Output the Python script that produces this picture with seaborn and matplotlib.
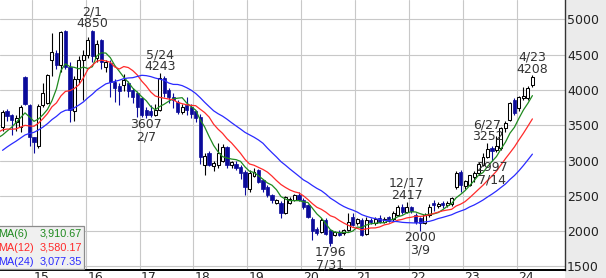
import numpy as np
import pandas as pd
import matplotlib
matplotlib.use("Agg")
import matplotlib.pyplot as plt
from matplotlib.patches import Rectangle
import matplotlib.transforms as mtransforms
import seaborn as sns

# ---------------- data (monthly candles, Jun 2014 .. Apr 2024) ----------------
first_year, first_month = 2014, 6
opens = [3480, 3700, 3640, 3540, 3480, 4180, 3790, 3330, 3200, 3790, 3820, 4424, 4520, 4353, 4840, 4330,
         3700, 4150, 4420, 4500, 4840, 4450, 4700, 4330, 4380, 4110, 4050, 4070, 4100, 4000, 3960, 3880,
         3720, 3700, 3645, 3716, 4170, 4000, 3900, 3830, 3690, 3786, 3760, 3700, 3620, 2930, 3105, 2920,
         2940, 3000, 3190, 2940, 2950, 2910, 2840, 2600, 2780, 2870, 2730, 2630, 2510, 2400, 2400, 2260,
         2400, 2440, 2510, 2440, 2370, 2170, 2030, 1990, 2160, 2015, 1950, 1990, 1970, 2015, 2200, 2110,
         2160, 1960, 2160, 2120, 2190, 2130, 2200, 2170, 2230, 2345, 2270, 2340, 2230, 2180, 2120, 2230,
         2400, 2360, 2400, 2370, 2380, 2630, 2840, 2640, 2660, 2770, 2820, 2940, 3050, 3180, 3150, 3180,
         3460, 3575, 3860, 3740, 3890, 3890, 4070]
highs = [3720, 3730, 3660, 3640, 3790, 4190, 3800, 3340, 3800, 4100, 4230, 4800, 4560, 4830, 4848, 4400,
         4200, 4480, 4560, 4750, 4850, 4700, 4720, 4420, 4420, 4160, 4100, 4230, 4130, 4020, 3980, 3900,
         3760, 3790, 3800, 4243, 4200, 4020, 3960, 3850, 3800, 3900, 3800, 3720, 3660, 3100, 3130, 3000,
         3245, 3230, 3200, 3000, 2990, 2930, 2860, 2870, 2895, 2880, 2740, 2650, 2530, 2460, 2420, 2500,
         2480, 2530, 2555, 2470, 2380, 2200, 2060, 2180, 2180, 2030, 2000, 2010, 2030, 2250, 2260, 2180,
         2180, 2200, 2190, 2200, 2230, 2200, 2220, 2280, 2370, 2380, 2417, 2360, 2260, 2200, 2250, 2380,
         2440, 2410, 2420, 2420, 2480, 2850, 2870, 2720, 2800, 2850, 2980, 3100, 3252, 3200, 3350, 3480,
         3560, 3830, 3880, 3920, 4040, 4050, 4208]
lows = [3420, 3560, 3360, 3420, 3400, 3780, 3200, 3110, 3180, 3760, 3800, 4200, 4300, 4250, 4300, 3550,
        3560, 4100, 3860, 4450, 4400, 4400, 4300, 4250, 3900, 3830, 3780, 3990, 3900, 3815, 3620, 3620,
        3607, 3620, 3630, 3700, 3900, 3820, 3750, 3660, 3660, 3640, 3600, 3550, 2950, 2800, 2920, 2850,
        2900, 2980, 2900, 2900, 2860, 2740, 2510, 2550, 2760, 2680, 2550, 2480, 2400, 2380, 2185, 2240,
        2380, 2420, 2420, 2320, 2180, 1875, 1950, 1970, 1940, 1796, 1930, 1930, 1950, 2000, 2080, 2090,
        1930, 1940, 2100, 2090, 2110, 2110, 2130, 2150, 2210, 2240, 2250, 2250, 2100, 2000, 2100, 2200,
        2290, 2330, 2330, 2340, 2360, 2600, 2560, 2600, 2640, 2700, 2800, 2920, 3040, 2997, 3120, 3150,
        3400, 3560, 3640, 3700, 3850, 3860, 4040]
closes = [3690, 3630, 3570, 3600, 3760, 3800, 3340, 3260, 3770, 3960, 4210, 4540, 4350, 4824, 4330, 3720,
          4150, 4420, 4500, 4700, 4480, 4650, 4400, 4400, 4110, 4030, 3990, 4140, 3980, 3900, 3760, 3650,
          3650, 3640, 3716, 4170, 3960, 3900, 3860, 3690, 3760, 3716, 3660, 3600, 3055, 3070, 2940, 2965,
          3105, 3195, 2940, 2980, 2890, 2820, 2630, 2825, 2840, 2700, 2590, 2510, 2440, 2440, 2260, 2484,
          2460, 2510, 2440, 2340, 2200, 2000, 1975, 2160, 1960, 1830, 1990, 1950, 2020, 2130, 2090, 2170,
          1950, 2160, 2130, 2170, 2130, 2170, 2150, 2260, 2345, 2275, 2340, 2280, 2130, 2115, 2230, 2340,
          2370, 2390, 2370, 2400, 2470, 2830, 2660, 2710, 2790, 2820, 2950, 3050, 3170, 3140, 3210, 3460,
          3530, 3815, 3670, 3900, 3920, 4030, 4180]
# closes before the first drawn candle (Jul 2012 .. May 2014), only seed the moving averages
prior_closes = [2500, 2550, 2650, 2700, 2750, 2800, 2900, 2950, 3000, 3050, 3150, 3250,
                3500, 3600, 3550, 3450, 3500, 3450, 3300, 3250, 3200, 3350, 3380]

ma_windows = [6, 12, 24]
ma_colors = ["#1f8a1f", "#ff2a2a", "#2a2aff"]
ma_last_text = ["3,910.67", "3,580.17", "3,077.35"]

year_labels = ["15", "16", "17", "18", "19", "20", "21", "22", "23", "24"]
price_ticks = [1500, 2000, 2500, 3000, 3500, 4000, 4500, 5000]

# annotations: candle (year, month), date text, high/low
ann_year = [2016, 2017, 2017, 2020, 2021, 2022, 2023, 2023, 2024]
ann_month = [2, 5, 2, 7, 12, 3, 6, 7, 4]
ann_date = ["2/1", "5/24", "2/7", "7/31", "12/17", "3/9", "6/27", "7/14", "4/23"]
ann_kind = ["high", "high", "low", "low", "high", "low", "high", "low", "high"]

# ---------------- build ----------------
n = len(closes)
t0 = (first_year - 2015) * 12 + (first_month - 1)
t = np.arange(n) + t0
o = np.array(opens, float); h = np.array(highs, float)
l = np.array(lows, float); c = np.array(closes, float)

all_close = pd.Series(list(prior_closes) + list(closes), dtype=float)
all_t = np.arange(len(all_close)) + t0 - len(prior_closes)

sns.set_style("white")
plt.rcParams["font.family"] = ["DejaVu Sans"]

fig = plt.figure(figsize=(6.06, 2.78), dpi=100)
fig.patch.set_facecolor("white")
fig.add_artist(Rectangle((565 / 606, 0), 41 / 606, 1, transform=fig.transFigure,
                         facecolor="#ebebeb", edgecolor="none", zorder=-5))
ax = fig.add_axes([0, 8 / 278, 565 / 606, 270 / 278])
ax.set_facecolor("white")

# grid
year_pos = [12 * k - 0.5 for k in range(len(year_labels))]
for yp in year_pos:
    ax.axvline(yp, color="#c8c8c8", lw=0.8, zorder=0)
for pt in price_ticks:
    ax.axhline(pt, color="#c8c8c8", lw=0.8, zorder=0)

# candles
up = c >= o
navy = "#0a0a9a"
ax.vlines(t[up], l[up], h[up], color="black", lw=0.8, zorder=2)
ax.vlines(t[~up], l[~up], h[~up], color=navy, lw=0.8, zorder=2)
ax.bar(t[up], c[up] - o[up], bottom=o[up], width=0.66, color="white",
       edgecolor="black", linewidth=0.75, zorder=3)
ax.bar(t[~up], o[~up] - c[~up], bottom=c[~up], width=0.72, color=navy,
       edgecolor=navy, linewidth=0.5, zorder=3)

# moving averages via seaborn
for w, col in zip(ma_windows, ma_colors):
    ma = all_close.rolling(w).mean()
    df = pd.DataFrame({"t": all_t, "ma": ma})
    df = df[(df["t"] >= t0 - 1) & df["ma"].notna()]
    sns.lineplot(data=df, x="t", y="ma", color=col, lw=0.9, ax=ax, zorder=4,
                 estimator=None, sort=True)

ax.set_xlim(-7.57, 118.26)
ax.set_ylim(1450, 5273)
ax.set_xlabel(""); ax.set_ylabel("")

# axes styling
for s in ["left", "top"]:
    ax.spines[s].set_visible(False)
ax.spines["right"].set_color("#333333"); ax.spines["right"].set_linewidth(1.0)
ax.spines["bottom"].set_color("black"); ax.spines["bottom"].set_linewidth(1.4)
ax.yaxis.tick_right()
ax.set_yticks(price_ticks)
ax.set_yticklabels([str(p) for p in price_ticks])
ax.tick_params(axis="y", length=0, pad=1.4, labelsize=9, labelcolor="#222222")
ax.set_xticks([])

trans_x = mtransforms.blended_transform_factory(ax.transData, ax.transAxes)
for yp, lab in zip(year_pos, year_labels):
    ax.text(yp + 0.35, -0.005, lab, transform=trans_x, ha="left", va="top",
            fontsize=9, color="#222222", clip_on=False)

# high / low annotations
txt_col = "#333333"
for yy, mm, dtxt, kind in zip(ann_year, ann_month, ann_date, ann_kind):
    idx = (yy - 2015) * 12 + (mm - 1) - t0
    x = t[idx]
    if kind == "high":
        val = h[idx]
        ax.annotate(f"{int(val)}", (x, val), xytext=(0, 1.8), textcoords="offset points",
                    ha="center", va="baseline", fontsize=9, color=txt_col, zorder=6)
        ax.annotate(dtxt, (x, val), xytext=(0, 10.6), textcoords="offset points",
                    ha="center", va="baseline", fontsize=9, color=txt_col, zorder=6)
    else:
        val = l[idx]
        ax.annotate(f"{int(val)}", (x, val), xytext=(0, -7.3), textcoords="offset points",
                    ha="center", va="baseline", fontsize=9, color=txt_col, zorder=6)
        ax.annotate(dtxt, (x, val), xytext=(0, -16.2), textcoords="offset points",
                    ha="center", va="baseline", fontsize=9, color=txt_col, zorder=6)

# MA value box (bottom-left)
bw = 84 / 565
bh = 43 / 270
ax.add_patch(Rectangle((-0.01, 0.002), bw + 0.01, bh, transform=ax.transAxes,
                       facecolor="#f0f0f0", edgecolor="#8c8c8c", lw=0.9, zorder=7,
                       clip_on=False))
row_y = [(270 - 234) / 270, (270 - 248) / 270, (270 - 262) / 270]
for w, col, val, ry in zip(ma_windows, ma_colors, ma_last_text, row_y):
    ax.text(-0.003, ry, f"MA({w})", transform=ax.transAxes, ha="left", va="center",
            fontsize=7.8, color=col, zorder=8, family="Liberation Sans")
    ax.text(82 / 565, ry, val, transform=ax.transAxes, ha="right", va="center",
            fontsize=7.8, color=col, zorder=8, family="Liberation Sans")

fig.savefig("out.png", dpi=100)
